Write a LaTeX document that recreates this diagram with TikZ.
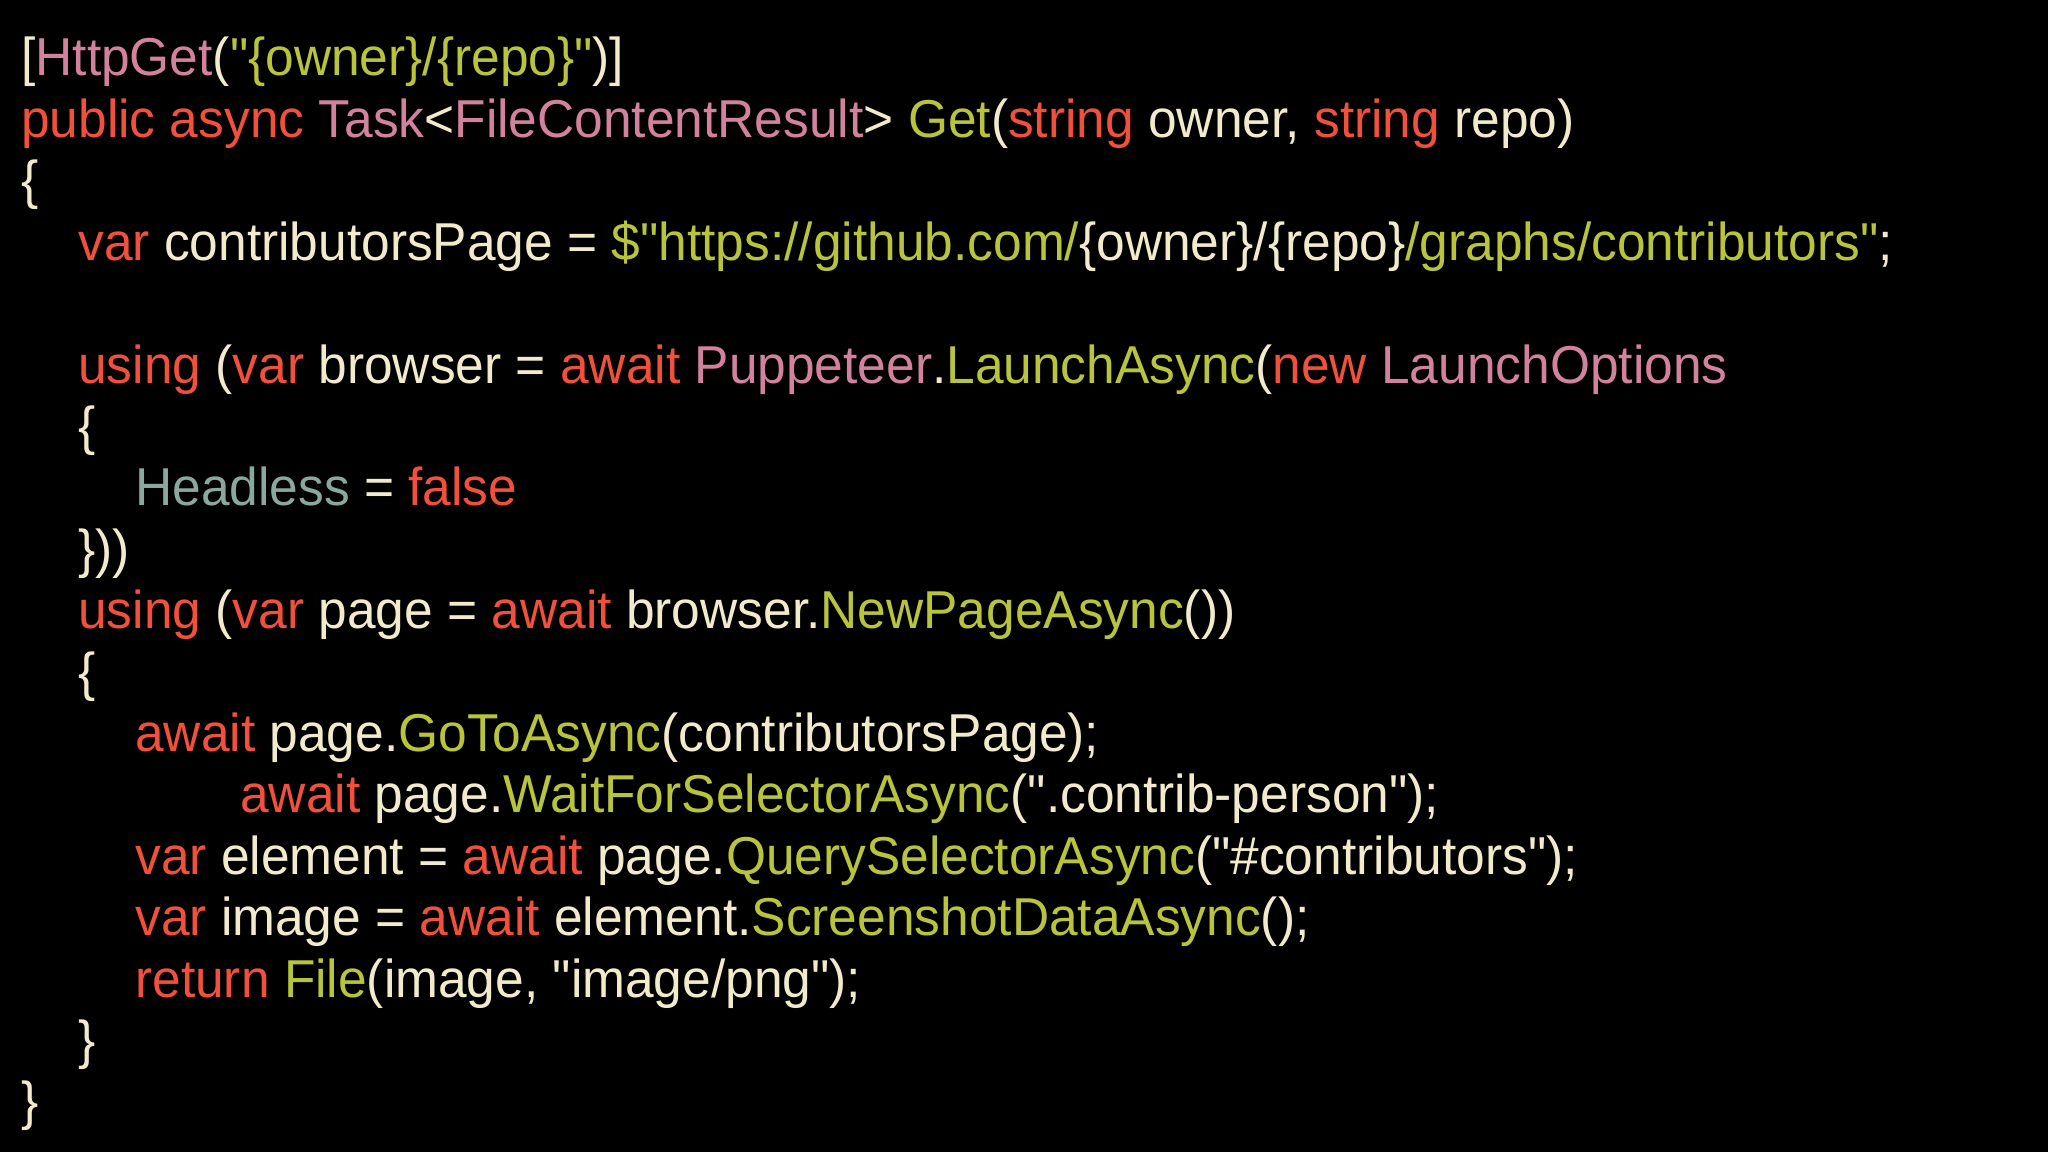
\documentclass[tikz,border=0pt]{standalone}
\usepackage{fontspec}
\setmainfont[FakeStretch=0.965,Ligatures=TeXOff]{Liberation Sans}
\definecolor{ckw}{HTML}{F0503C}
\definecolor{cty}{HTML}{D2829E}
\definecolor{cfn}{HTML}{B8C43C}
\definecolor{ctx}{HTML}{F2EBCB}
\definecolor{cpr}{HTML}{8AA89E}
\newcommand{\kw}[1]{\textcolor{ckw}{#1}}
\newcommand{\ty}[1]{\textcolor{cty}{#1}}
\newcommand{\fn}[1]{\textcolor{cfn}{#1}}
\newcommand{\pr}[1]{\textcolor{cpr}{#1}}
\begin{document}
\begin{tikzpicture}[x=0.75pt,y=-0.75pt,
  code/.style={anchor=base west,inner sep=0pt,text=ctx,font=\fontsize{40}{48}\selectfont}]
\fill[black] (0,0) rectangle (2048,1152);
\useasboundingbox (0,0) rectangle (2048,1152);
\def\L#1{76+61.4*#1}
\node[code] (l0) at (21,{\L0}) {[\ty{HttpGet}(\fn{"\{owner\}/\{repo\}"})]};
\node[code] (l1) at (21,{\L1}) {\kw{public async} \ty{Task}<\ty{FileContentResult}> \fn{Get}(\kw{string} owner, \kw{string} repo)};
\node[code] (l2) at (21,{\L2}) {\{};
\node[code] (l3) at (78,{\L3}) {\kw{var} contributorsPage = \fn{\$"https://github.com/}\{owner\}/\{repo\}\fn{/graphs/contributors"};};
\node[code] (l5) at (78,{\L5}) {\kw{using} (\kw{var} browser = \kw{await} \ty{Puppeteer}.\fn{LaunchAsync}(\kw{new} \ty{LaunchOptions}};
\node[code] (l6) at (78,{\L6}) {\{};
\node[code] (l7) at (135,{\L7}) {\pr{Headless} = \kw{false}};
\node[code] (l8) at (78,{\L8}) {\}))};
\node[code] (l9) at (78,{\L9}) {\kw{using} (\kw{var} page = \kw{await} browser.\fn{NewPageAsync}())};
\node[code] (l10) at (78,{\L{10}}) {\{};
\node[code] (l11) at (135,{\L{11}}) {\kw{await} page.\fn{GoToAsync}(contributorsPage);};
\node[code] (l12) at (240,{\L{12}}) {\kw{await} page.\fn{WaitForSelectorAsync}(".contrib-person");};
\node[code] (l13) at (135,{\L{13}}) {\kw{var} element = \kw{await} page.\fn{QuerySelectorAsync}("\#contributors");};
\node[code] (l14) at (135,{\L{14}}) {\kw{var} image = \kw{await} element.\fn{ScreenshotDataAsync}();};
\node[code] (l15) at (135,{\L{15}}) {\kw{return} \fn{File}(image, "image/png");};
\node[code] (l16) at (78,{\L{16}}) {\}};
\node[code] (l17) at (21,{\L{17}}) {\}};
\end{tikzpicture}
\end{document}
